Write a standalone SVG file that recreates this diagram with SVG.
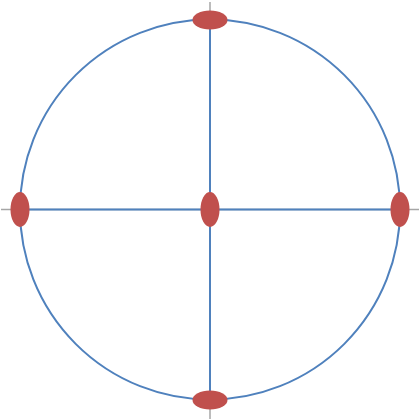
<svg xmlns="http://www.w3.org/2000/svg" width="420" height="420" viewBox="0 0 420 420">
<style>
.axis{stroke:#a6a6a6;stroke-width:1.5;fill:none}
.blue{stroke:#4f81bd;stroke-width:2;fill:none}
.node{fill:#c0504d;stroke:none}
</style>
<rect width="420" height="420" fill="#ffffff"/>
<g id="connectors">
<line class="axis" x1="210" y1="2" x2="210" y2="419"/>
<line class="axis" x1="1" y1="209.5" x2="419" y2="209.5"/>
<circle class="blue" cx="210" cy="209.5" r="190"/>
<line class="blue" x1="210" y1="20" x2="210" y2="400"/>
<line class="blue" x1="20" y1="209.5" x2="400" y2="209.5"/>
</g>
<g id="top"><ellipse class="node" cx="210" cy="20" rx="17.5" ry="9.5"/></g>
<g id="bottom"><ellipse class="node" cx="210" cy="400" rx="17.5" ry="9.5"/></g>
<g id="left"><ellipse class="node" cx="20" cy="209.5" rx="9.5" ry="17.5"/></g>
<g id="right"><ellipse class="node" cx="400" cy="209.5" rx="9.5" ry="17.5"/></g>
<g id="center"><ellipse class="node" cx="210" cy="209.5" rx="9.5" ry="17.5"/></g>
</svg>
